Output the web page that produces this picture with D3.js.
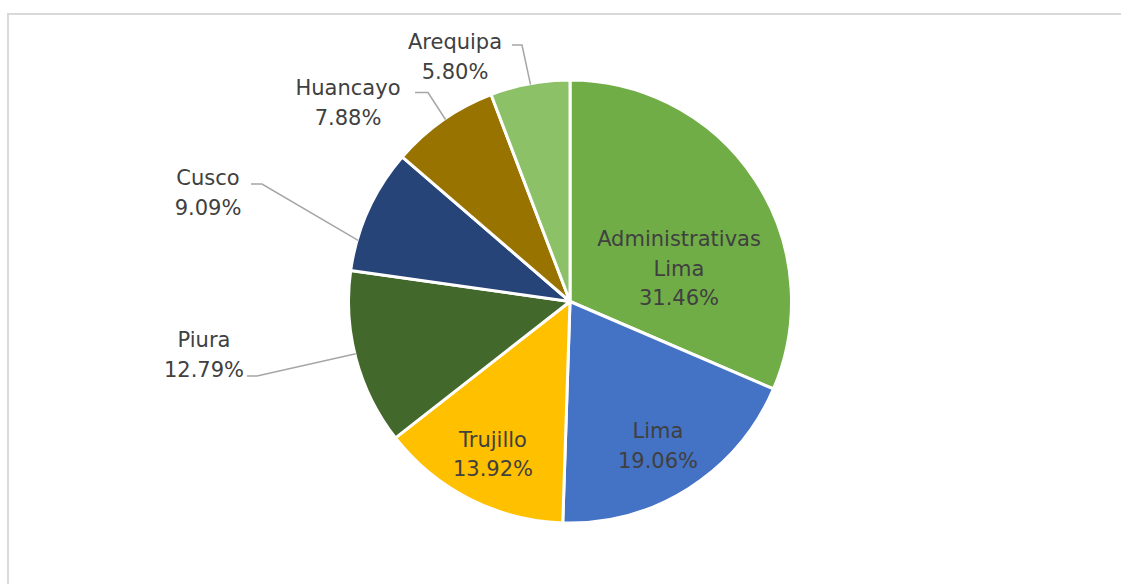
<!DOCTYPE html>
<html><head><meta charset="utf-8">
<script src="https://cdn.jsdelivr.net/npm/d3@7"></script>
<style>body{margin:0;background:#fff;} svg{display:block;}</style>
</head><body>
<svg id="c" width="1121" height="584"></svg>
<script>
const categories = ["Administrativas Lima","Lima","Trujillo","Piura","Cusco","Huancayo","Arequipa"];
const values = [31.46,19.06,13.92,12.79,9.09,7.88,5.80];
const colors = ["#70AD47","#4472C4","#FFC000","#43682B","#264478","#997300","#8CC168"];
const labelLines = [["Administrativas","Lima"],["Lima"],["Trujillo"],["Piura"],["Cusco"],["Huancayo"],["Arequipa"]];

const svg = d3.select("#c");
const W = 1121, H = 584;
svg.append("rect").attr("x",8).attr("y",14).attr("width",W+20).attr("height",H+20)
  .attr("fill","#fff").attr("stroke","#d9d9d9").attr("stroke-width",2);

const cx = 570, cy = 301.5, R = 221.5;
const g = svg.append("g").attr("transform",`translate(${cx},${cy})`);
const pie = d3.pie().sort(null).value(d=>d)(values);
const arc = d3.arc().innerRadius(0).outerRadius(R);
g.selectAll("path").data(pie).join("path")
  .attr("d",arc).attr("fill",(d,i)=>colors[i])
  .attr("stroke","#fff").attr("stroke-width",3).attr("stroke-linejoin","round");

const font = "'DejaVu Sans', sans-serif";
const fs = 21;
const labelPos = [[109,-33],[88,144],[-77,152.5],[-366,53],[-362,-109],[-222,-199],[-115,-245]];
const lh = 29.5;
const fmt = v => v.toFixed(2) + "%";
pie.forEach((d,i)=>{
  const lines = labelLines[i].concat([fmt(values[i])]);
  const [lx,ly] = labelPos[i];
  const t = g.append("text").attr("text-anchor","middle").attr("font-family",font)
    .attr("font-size",fs).attr("fill","#404040");
  const n = lines.length;
  lines.forEach((s,k)=>{
    t.append("tspan").attr("x",lx).attr("y",ly + (k-(n-1)/2)*lh).attr("dy","0.35em").text(s);
  });
});
const leaders = {
  3: {start:[-323,74.5], elbow:[-313,74.5], ang:-1.81},
  4: {start:[-319,-117.5], elbow:[-308,-117.5], ang:-1.29},
  5: {start:[-155,-209], elbow:[-142,-209], ang:-0.6},
  6: {start:[-58,-256.5], elbow:[-48,-256.5], ang:-0.18}
};
Object.entries(leaders).forEach(([i,o])=>{
  const p = [Math.sin(o.ang)*(R-1), -Math.cos(o.ang)*(R-1)];
  g.append("polyline").attr("points",[o.start,o.elbow,p].map(q=>q.join(",")).join(" "))
   .attr("fill","none").attr("stroke","#a6a6a6").attr("stroke-width",1.5);
});
</script>
</body></html>
